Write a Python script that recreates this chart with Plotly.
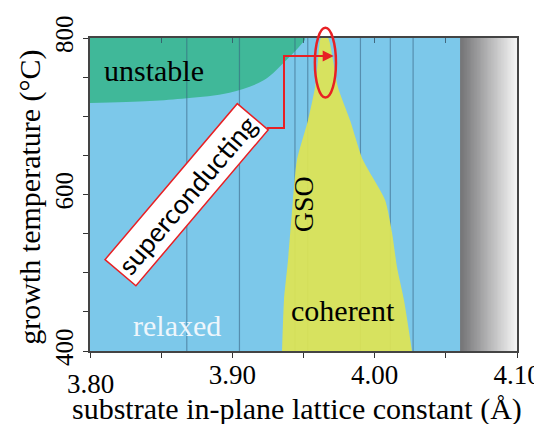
import numpy as np
import plotly.graph_objects as go

# ---------------- data ----------------
X_RANGE = [3.80, 4.10]
Y_RANGE = [400, 800]

x_tickvals = [3.80, 3.85, 3.90, 3.95, 4.00, 4.05, 4.10]
x_ticktext = ["", "", "3.90", "", "4.00", "", "4.10"]
y_tickvals = [400, 450, 500, 550, 600, 650, 700, 750, 800]
y_ticktext = ["400", "", "", "", "600", "", "", "", "800"]

# substrate lattice constants (thin vertical lines)
substrate_a = [3.868, 3.905, 3.944, 3.953, 3.990, 4.011, 4.027]

# "unstable" region lower boundary (x, T)
unstable_x = [3.800, 3.842, 3.868, 3.898, 3.922, 3.938, 3.948, 3.951]
unstable_T = [717, 719.5, 723, 730, 746, 772, 791, 800]

# GSO coherent region boundary
gso_left_x = [3.9349, 3.9363, 3.9391, 3.9426, 3.9454, 3.9532, 3.9581, 3.9602, 3.9623]
gso_left_T = [400, 465, 516, 593, 644, 695, 737, 772, 800]
gso_right_x = [3.9672, 3.9707, 3.9742, 3.9827, 3.9918, 4.0073, 4.0122, 4.0157, 4.0206, 4.0262]
gso_right_T = [800, 772, 737, 695, 644, 593, 551, 507, 465, 400]

# substrate-limit (gray) band
gray_x = [4.06, 4.10]

# red pointer path from label to optimum
pointer_x = [3.9244, 3.9363, 3.9363, 3.9690]
pointer_T = [685, 685, 777, 777]
arrow_tip = (3.9712, 777)
ellipse_x = [3.9580, 3.9728]
ellipse_T = [724, 813]

# ---------------- style ----------------
BLUE = "rgb(124,200,234)"
GREEN = "rgb(64,184,153)"
YELLOW = "rgb(222,228,84)"
RED = "rgb(232,32,36)"
SERIF = "Liberation Serif"


def to_paper_x(v):
    return (v - X_RANGE[0]) / (X_RANGE[1] - X_RANGE[0])


def to_paper_y(v):
    return (v - Y_RANGE[0]) / (Y_RANGE[1] - Y_RANGE[0])


fig = go.Figure()

# gray gradient band
nb = 40
edges = np.linspace(gray_x[0], gray_x[1], nb + 1)
fig.add_trace(go.Heatmap(
    x=edges, y=Y_RANGE, z=[list(range(nb))],
    colorscale=[[0, "rgb(118,118,120)"], [1, "rgb(246,246,246)"]],
    showscale=False, hoverinfo="skip", zsmooth="best"))

# unstable region
fig.add_trace(go.Scatter(
    x=unstable_x + [X_RANGE[0]], y=unstable_T + [Y_RANGE[1]],
    fill="toself", fillcolor=GREEN, mode="lines", line=dict(width=0, shape="spline"),
    hoverinfo="skip", showlegend=False))

# substrate lines
lx, ly = [], []
for a in substrate_a:
    lx += [a, a, None]
    ly += [Y_RANGE[0], Y_RANGE[1], None]
fig.add_trace(go.Scatter(x=lx, y=ly, mode="lines",
                         line=dict(color="rgba(55,95,125,0.55)", width=1.2),
                         hoverinfo="skip", showlegend=False))

# GSO coherent region
fig.add_trace(go.Scatter(
    x=gso_left_x + gso_right_x, y=gso_left_T + gso_right_T,
    fill="toself", fillcolor=YELLOW, opacity=0.93, mode="lines",
    line=dict(width=0, shape="spline", smoothing=0.6),
    hoverinfo="skip", showlegend=False))

# red pointer
fig.add_trace(go.Scatter(x=pointer_x, y=pointer_T, mode="lines",
                         line=dict(color=RED, width=2), hoverinfo="skip", showlegend=False))

# dummy trace for top axis
fig.add_trace(go.Scatter(x=[X_RANGE[0]], y=[Y_RANGE[0]], xaxis="x2", mode="markers",
                         marker=dict(opacity=0), hoverinfo="skip", showlegend=False))

fig.add_annotation(x=arrow_tip[0], y=arrow_tip[1], ax=pointer_x[-1] - 0.004, ay=arrow_tip[1],
                   axref="x", ayref="y", xref="x", yref="y", text="", showarrow=True,
                   arrowhead=2, arrowsize=1.1, arrowwidth=2, arrowcolor=RED)

fig.add_shape(type="circle", xref="paper", yref="paper",
              x0=to_paper_x(ellipse_x[0]), x1=to_paper_x(ellipse_x[1]),
              y0=to_paper_y(ellipse_T[0]), y1=to_paper_y(ellipse_T[1]),
              line=dict(color=RED, width=2.5), layer="above")

# labels
C = dict(xanchor="center", yanchor="middle", showarrow=False)
fig.add_annotation(x=3.845, y=759, text="unstable",
                   font=dict(family=SERIF, size=30, color="black"), **C)
fig.add_annotation(x=3.950, y=587, text="GSO", textangle=-90,
                   font=dict(family=SERIF, size=28, color="black"), **C)
fig.add_annotation(x=3.978, y=452, text="coherent",
                   font=dict(family=SERIF, size=30, color="black"), **C)
fig.add_annotation(x=3.861, y=432, text="relaxed",
                   font=dict(family=SERIF, size=30, color="rgb(238,246,252)"), **C)
fig.add_annotation(x=3.8678, y=599, text="superconducting", textangle=-49.7,
                   font=dict(family="Lato", size=27, color="black"),
                   bgcolor="white", bordercolor=RED, borderwidth=1.5, borderpad=3, **C)

# axis titles and shifted tick label
fig.add_annotation(xref="paper", yref="paper", x=0.0, y=-0.104, text="3.80",
                   font=dict(family=SERIF, size=27, color="black"), **C)
fig.add_annotation(xref="paper", yref="paper", x=0.485, y=-0.185,
                   text="substrate in-plane lattice constant (Å)",
                   font=dict(family=SERIF, size=30, color="black"), **C)
fig.add_annotation(xref="paper", yref="paper", x=-0.1405, y=0.49,
                   text="growth temperature (°C)", textangle=-90,
                   font=dict(family=SERIF, size=30, color="black"), **C)

fig.update_layout(
    width=534, height=424,
    margin=dict(l=90, r=17, t=38, b=73, autoexpand=False),
    paper_bgcolor="white", plot_bgcolor=BLUE,
    showlegend=False,
    xaxis=dict(range=X_RANGE, tickvals=x_tickvals, ticktext=x_ticktext,
               ticks="outside", ticklen=5, tickwidth=1.2, tickcolor="#333",
               showline=True, linecolor="#444", linewidth=1.5, mirror=True,
               showgrid=False, zeroline=False, ticklabeloverflow="allow",
               ticklabelstandoff=-6, automargin=False,
               tickfont=dict(family=SERIF, size=27, color="black")),
    xaxis2=dict(range=X_RANGE, overlaying="x", side="top", tickvals=x_tickvals,
                ticks="inside", ticklen=5, tickwidth=1.2, tickcolor="rgba(50,80,100,0.8)",
                showticklabels=False, showgrid=False, zeroline=False, showline=False,
                automargin=False),
    yaxis=dict(range=Y_RANGE, tickvals=y_tickvals, ticktext=y_ticktext, tickangle=-90,
               ticks="outside", ticklen=5, tickwidth=1.2, tickcolor="#333",
               showline=True, linecolor="#444", linewidth=1.5, mirror=True,
               showgrid=False, zeroline=False, automargin=False,
               tickfont=dict(family=SERIF, size=25, color="black")),
)

fig.write_html("out.html")
